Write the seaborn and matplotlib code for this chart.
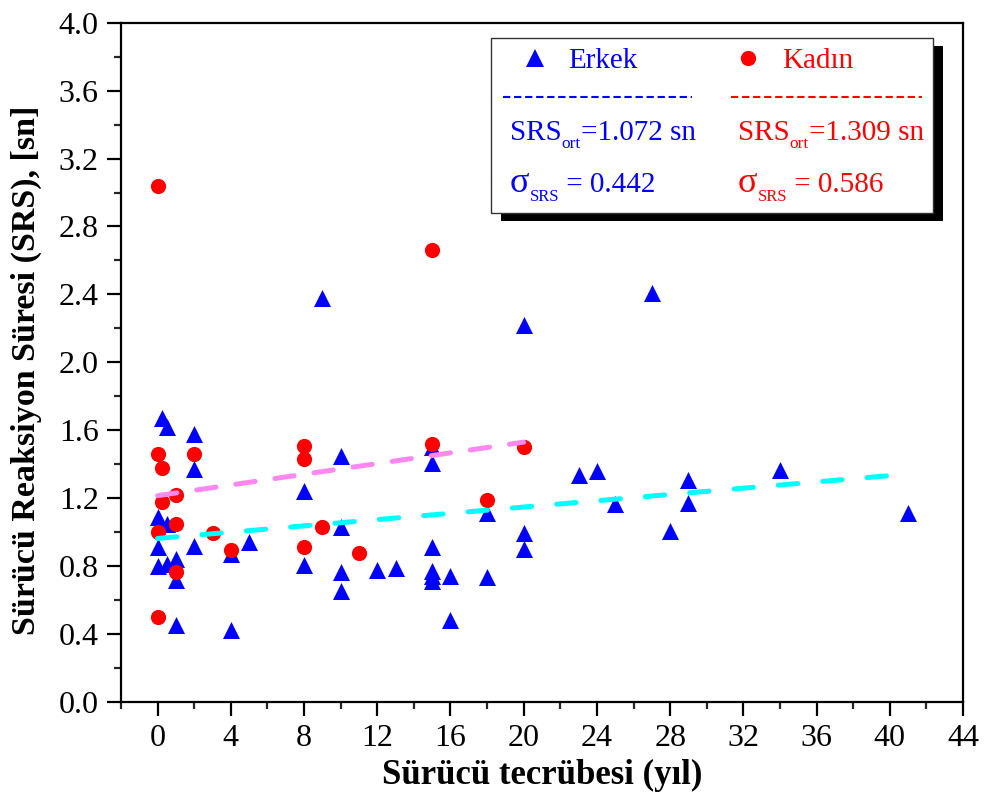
import matplotlib
matplotlib.use("Agg")
import matplotlib.pyplot as plt
import matplotlib.ticker as mticker
from matplotlib.patches import Rectangle
from matplotlib.lines import Line2D
import seaborn as sns
import pandas as pd

# ---- data ----
erkek_x = [0.25, 0.5, 2, 2, 8, 0, 0.5, 0, 2, 4, 5, 0, 0.5, 1, 1, 8, 1, 4,
           10, 15, 15, 10, 18, 20, 20, 10, 10, 12, 13, 15, 15, 15, 15, 16, 18, 16,
           27, 20, 23, 24, 29, 29, 34, 25, 28, 41, 9]
erkek_y = [1.67, 1.62, 1.58, 1.37, 1.245, 1.09, 1.05, 0.91, 0.92, 0.87, 0.94, 0.80, 0.81, 0.84, 0.72, 0.807, 0.453, 0.424,
           1.45, 1.50, 1.405, 1.03, 1.11, 0.995, 0.90, 0.764, 0.655, 0.78, 0.787, 0.91, 0.77, 0.74, 0.71, 0.744, 0.738, 0.48,
           2.41, 2.22, 1.337, 1.362, 1.31, 1.17, 1.366, 1.164, 1.009, 1.11, 2.38]
kadin_x = [0, 15, 0, 0.25, 2, 8, 8, 0.25, 1, 1, 0, 3, 4, 1, 0, 15, 20, 9, 18, 8, 11]
kadin_y = [3.04, 2.66, 1.46, 1.38, 1.46, 1.51, 1.43, 1.18, 1.22, 1.05, 1.00, 0.995, 0.895, 0.765, 0.50,
           1.52, 1.50, 1.03, 1.19, 0.91, 0.876]

trend_erkek_x = [0, 40]
trend_erkek_y = [0.963, 1.333]
trend_kadin_x = [0, 20]
trend_kadin_y = [1.215, 1.53]

legend_labels = ["Erkek", "Kadın"]
# (main, subscript, rest)
stat_erkek = [("SRS", "ort", "=1.072 sn"), ("σ", "SRS", " = 0.442")]
stat_kadin = [("SRS", "ort", "=1.309 sn"), ("σ", "SRS", " = 0.586")]

xlabel = "Sürücü tecrübesi (yıl)"
ylabel = "Sürücü Reaksiyon Süresi (SRS), [sn]"

# ---- style ----
sns.set_theme(style="white")
plt.rcParams["font.family"] = ["Liberation Serif", "DejaVu Serif"]
plt.rcParams["text.color"] = "black"
plt.rcParams["axes.labelcolor"] = "black"

W, H = 984, 798
fig = plt.figure(figsize=(W / 100, H / 100), dpi=100)
ax = fig.add_axes([121 / W, 1 - 702 / H, 842 / W, 679.3 / H])

df_e = pd.DataFrame({"x": erkek_x, "y": erkek_y})
df_k = pd.DataFrame({"x": kadin_x, "y": kadin_y})

sns.scatterplot(data=df_e, x="x", y="y", marker="^", color="#0000FF", s=150,
                linewidth=0, ax=ax, zorder=3, legend=False)
sns.scatterplot(data=df_k, x="x", y="y", marker="o", color="#FF0000", s=120,
                linewidth=0, ax=ax, zorder=4, legend=False)

ax.plot(trend_erkek_x, trend_erkek_y, color="#00FFFF", lw=3.6,
        dashes=(3.9, 5.0), dash_capstyle="round", zorder=5)
ax.plot(trend_kadin_x, trend_kadin_y, color="#FF88F0", lw=3.6,
        dashes=(3.9, 4.0), dash_capstyle="round", zorder=5)

ax.set_xlim(-2, 44)
ax.set_ylim(0, 4.0)
ax.xaxis.set_major_locator(mticker.MultipleLocator(4))
ax.xaxis.set_minor_locator(mticker.MultipleLocator(2))
ax.yaxis.set_major_locator(mticker.MultipleLocator(0.4))
ax.yaxis.set_minor_locator(mticker.MultipleLocator(0.2))
ax.yaxis.set_major_formatter(mticker.FormatStrFormatter("%.1f"))

for sp in ax.spines.values():
    sp.set_visible(True)
    sp.set_color("black")
    sp.set_linewidth(1.6)

ax.tick_params(which="major", direction="out", length=10, width=1.6,
               labelsize=23, color="black", labelcolor="black",
               bottom=True, left=True, top=False, right=False)
ax.tick_params(which="minor", direction="out", length=5, width=1.6,
               bottom=True, left=True, top=False, right=False)
ax.tick_params(axis="x", which="major", pad=6)
ax.tick_params(axis="y", which="major", pad=6)

ax.set_xlabel(xlabel, fontsize=25, fontweight="bold", color="black")
ax.set_ylabel(ylabel, fontsize=24.5, fontweight="bold", color="black")
ax.xaxis.set_label_coords(0.5, -0.084)
ax.yaxis.set_label_coords(-0.094, 0.489)


# ---- custom legend box (figure pixel coordinates) ----
def fx(px):
    return px / W


def fy(py):
    return 1 - py / H


box_l, box_t, box_r, box_b = 491, 38, 933, 213
shadow = Rectangle((fx(box_l + 10), fy(box_b + 8)), fx(box_r - box_l), (box_b - box_t) / H,
                   transform=fig.transFigure, facecolor="black", edgecolor="none", zorder=10)
box = Rectangle((fx(box_l), fy(box_b)), fx(box_r - box_l), (box_b - box_t) / H,
                transform=fig.transFigure, facecolor="white", edgecolor="#333333", lw=1.0, zorder=11)
fig.add_artist(shadow)
fig.add_artist(box)

fig.add_artist(Line2D([fx(535)], [fy(58)], marker="^", color="#0000FF", markersize=13,
                      markeredgewidth=0, transform=fig.transFigure, zorder=12))
fig.add_artist(Line2D([fx(748)], [fy(58)], marker="o", color="#FF0000", markersize=11,
                      markeredgewidth=0, transform=fig.transFigure, zorder=12))
fig.text(fx(568), fy(68), legend_labels[0], color="#0000FF", fontsize=21, zorder=12)
fig.text(fx(782), fy(68), legend_labels[1], color="#FF0000", fontsize=21, zorder=12)

fig.add_artist(Line2D([fx(503), fx(692)], [fy(97), fy(97)], color="#0000FF", lw=1.5,
                      dashes=(3.5, 1.8), transform=fig.transFigure, zorder=12))
fig.add_artist(Line2D([fx(731), fx(922)], [fy(97), fy(97)], color="#FF0000", lw=1.5,
                      dashes=(3.5, 1.8), transform=fig.transFigure, zorder=12))

renderer = fig.canvas.get_renderer()


def compose(x, y, parts, color, main_size, sub_size, sub_drop):
    main, sub, rest = parts
    t1 = fig.text(fx(x), fy(y), main, color=color, fontsize=main_size, zorder=12)
    x2 = t1.get_window_extent(renderer).x1
    t2 = fig.text(x2 / W, fy(y + sub_drop), sub, color=color, fontsize=sub_size, zorder=12)
    x3 = t2.get_window_extent(renderer).x1
    fig.text(x3 / W, fy(y), rest, color=color, fontsize=21, zorder=12)


compose(510, 140, stat_erkek[0], "#0000FF", 21, 12.5, 8)
compose(738, 140, stat_kadin[0], "#FF0000", 21, 12.5, 8)
compose(510, 192, stat_erkek[1], "#0000FF", 26, 12, 9)
compose(738, 192, stat_kadin[1], "#FF0000", 26, 12, 9)

fig.savefig("out.png", dpi=100, facecolor="white")
